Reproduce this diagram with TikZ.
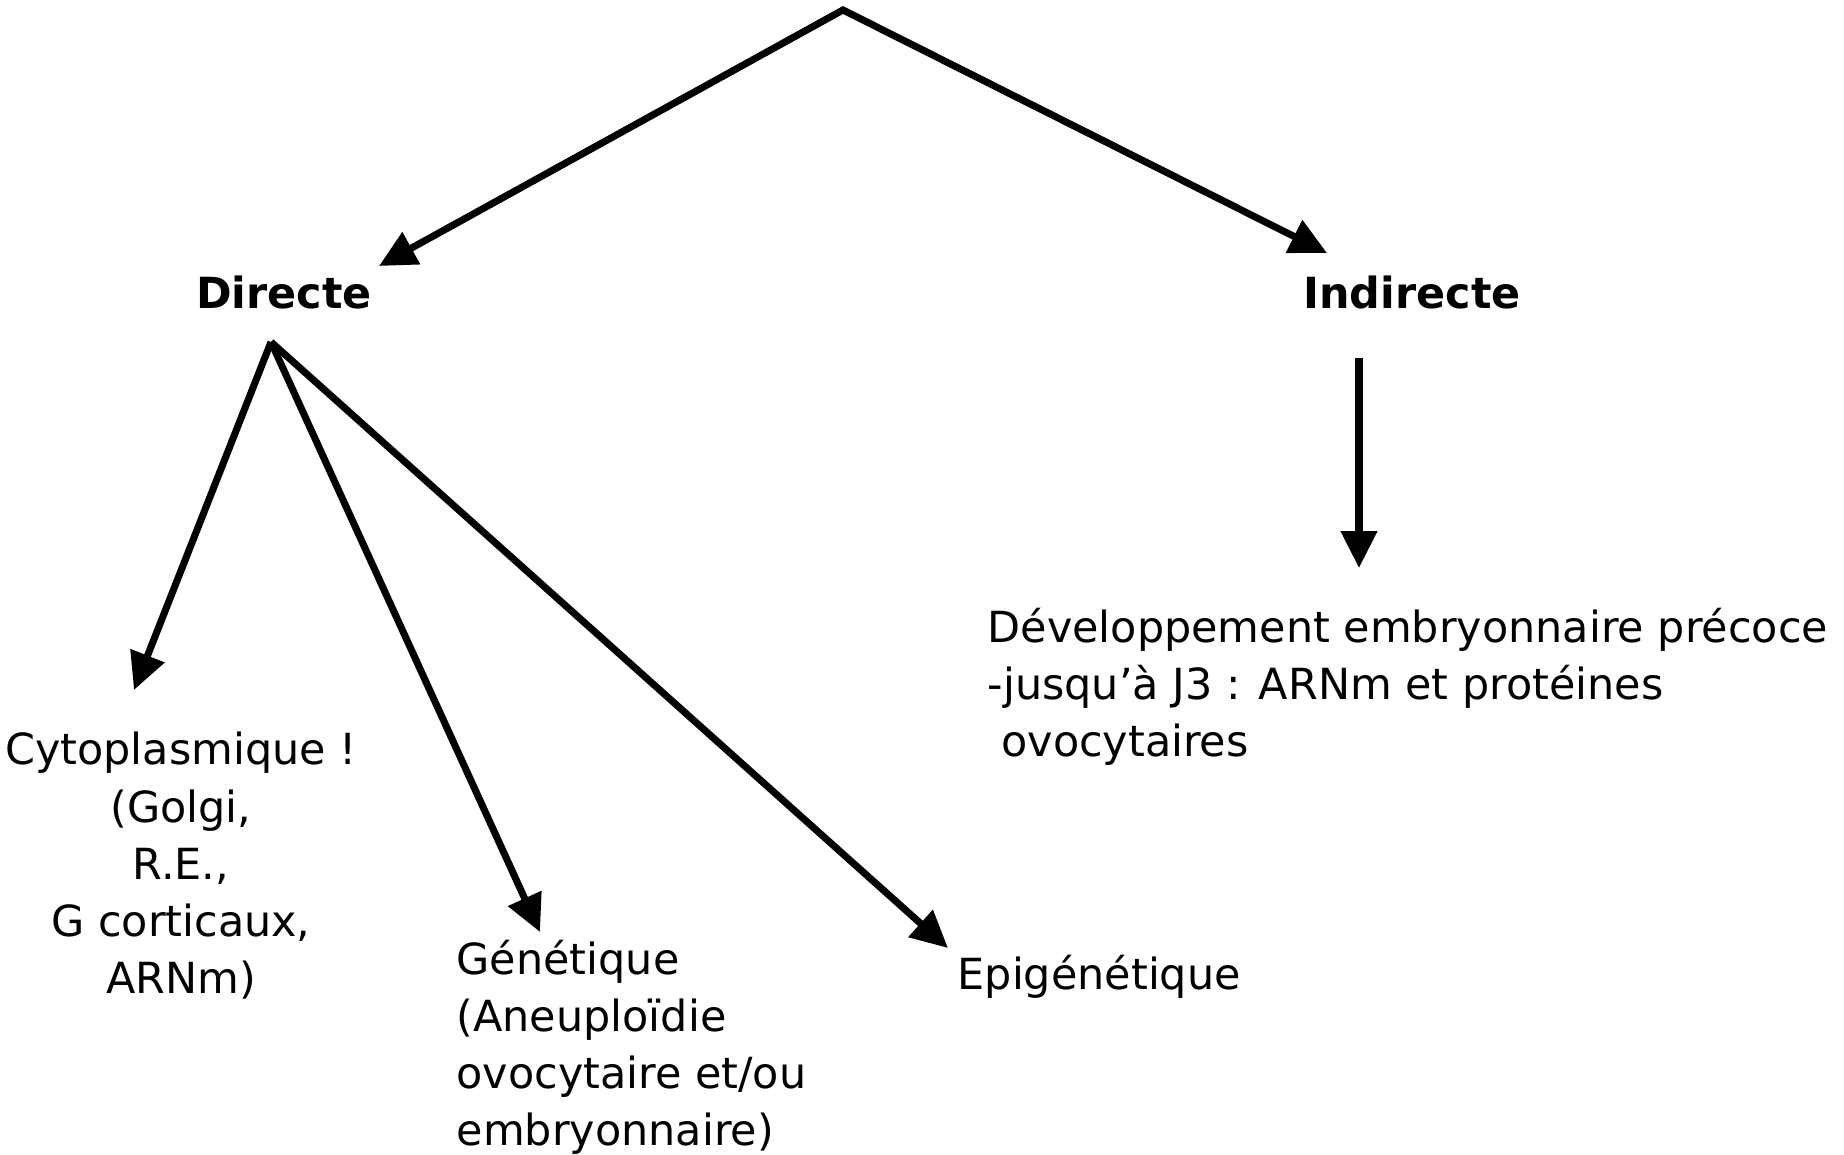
\documentclass[tikz,border=0pt]{standalone}
\usepackage{fontspec}
\setmainfont{DejaVu Sans}
\usetikzlibrary{arrows.meta}

\begin{document}
\begin{tikzpicture}[x=0.01cm,y=-0.01cm,
  fl/.style={line width=2pt,-{Triangle[length=10.5pt,width=10pt]}},
  fldeux/.style={line width=2pt,{Triangle[length=10.5pt,width=10pt]}-{Triangle[length=10.5pt,width=10pt]}},
  txt/.style={inner sep=0pt,font=\fontsize{12.2}{16.3}\selectfont},
  titre/.style={inner sep=0pt,font=\fontsize{12.2}{16.3}\selectfont\bfseries}]

\useasboundingbox (0,0) rectangle (1844,1155);

% points
\coordinate (top) at (843,10);
\coordinate (dtip) at (379,266);
\coordinate (itip) at (1327,253);
\coordinate (dsrc) at (271,342);
\coordinate (isrc) at (1359,358);
\coordinate (cytotip) at (134,690);
\coordinate (genettip) at (540,932);
\coordinate (epigentip) at (948,948);
\coordinate (develtip) at (1359,568);

\node[titre,anchor=base] (directe) at (284,309) {Directe};
\node[titre,anchor=base] (indirecte) at (1412,309) {Indirecte};

% base = last line
\node[txt,anchor=base,align=center] (cyto) at (181,994)
  {Cytoplasmique !\\(Golgi,\\R.E.,\\G corticaux,\\ARNm)};
\node[txt,anchor=base west,align=left] (genet) at (456,1146)
  {Génétique\\(Aneuploïdie\\ovocytaire et/ou\\embryonnaire)};
\node[txt,anchor=base west] (epigen) at (957,990) {Epigénétique};
\node[txt,anchor=base west,align=left] (devel) at (987,757)
  {Développement embryonnaire précoce\\-jusqu’à J3 : ARNm et protéines\\\ ovocytaires};

\draw[fldeux] (dtip) -- (top) -- (itip);

\draw[fl] (dsrc) -- (cytotip);
\draw[fl] (dsrc) -- (genettip);
\draw[fl] (dsrc) -- (epigentip);

\draw[fl] (isrc) -- (develtip);

\end{tikzpicture}
\end{document}
